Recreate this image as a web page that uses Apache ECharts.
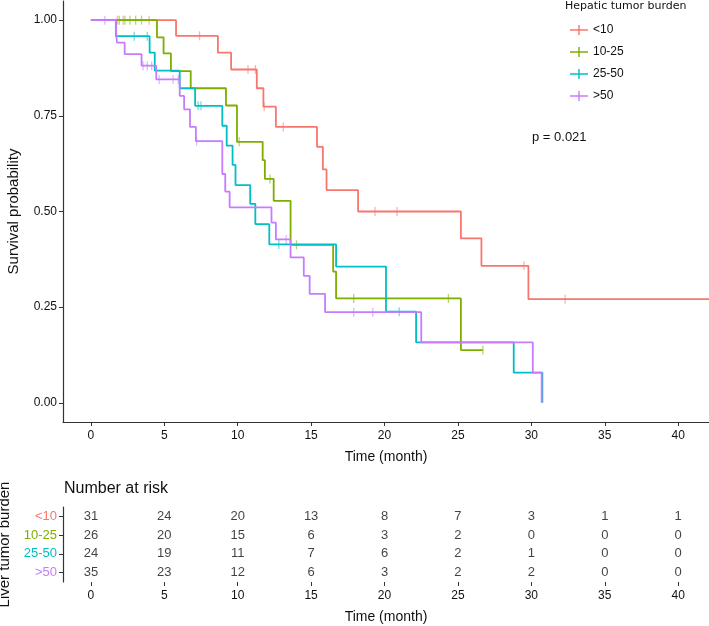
<!DOCTYPE html>
<html>
<head>
    <meta charset="utf-8">
    <script src="https://cdn.jsdelivr.net/npm/echarts@6.0.0/dist/echarts.min.js"></script>
    <style>
        body { margin: 0; background: #fff; }
    </style>
</head>
<body>
    <div id="km" style="width: 709px;height:626px;"></div>
    <script type="text/javascript">
        // groups and colours
        var groups = ['<10', '10-25', '25-50', '>50'];
        var colors = ['#F8766D', '#7CAE00', '#00BFC4', '#C77CFF'];

        // step points (time in months, survival)
        var t_lt10 = [0, 5.8, 8.65, 9.55, 11.3, 11.75, 12.6, 15.4, 15.8, 16.05, 18.2, 25.2, 26.6, 29.8, 43];
        var s_lt10 = [1, 0.959, 0.915, 0.871, 0.822, 0.774, 0.721, 0.669, 0.610, 0.556, 0.500, 0.430, 0.358, 0.271, 0.271];
        var c_lt10 = [1.8, 2.2, 3.97, 7.4, 10.7, 11.2, 11.8, 13.1, 19.35, 20.85, 29.5, 32.3];

        var t_10_25 = [0, 4.5, 4.95, 5.45, 6.8, 9.2, 9.95, 11.7, 11.85, 12.45, 13.6, 16.5, 16.7, 25.2, 26.7];
        var s_10_25 = [1, 0.955, 0.913, 0.867, 0.822, 0.777, 0.682, 0.634, 0.585, 0.528, 0.413, 0.343, 0.273, 0.138, 0.138];
        var c_10_25 = [1.93, 2.32, 2.66, 3.05, 3.45, 10.1, 12.2, 14.0, 17.9, 24.35, 26.7];

        var t_25_50 = [0, 1.7, 4.0, 4.35, 6.05, 7.1, 8.95, 9.25, 9.65, 9.85, 10.85, 11.2, 12.15, 16.7, 20.1, 22.15, 28.8, 30.75];
        var s_25_50 = [1, 0.958, 0.915, 0.868, 0.822, 0.776, 0.724, 0.672, 0.622, 0.569, 0.520, 0.467, 0.414, 0.356, 0.238, 0.158, 0.079, 0];
        var c_25_50 = [2.95, 3.84, 7.3, 7.5, 12.8, 21.0];

        var t_gt50 = [0, 1.72, 1.78, 2.3, 3.45, 4.45, 6.05, 6.35, 6.75, 7.15, 8.95, 9.15, 9.45, 12.3, 12.6, 13.6, 14.5, 14.9, 15.95, 22.5, 30.1, 30.7];
        var s_gt50 = [1, 0.965, 0.941, 0.911, 0.881, 0.845, 0.802, 0.767, 0.721, 0.684, 0.598, 0.552, 0.511, 0.471, 0.427, 0.380, 0.332, 0.285, 0.237, 0.158, 0.079, 0];
        var c_gt50 = [0.95, 3.55, 3.84, 4.14, 4.65, 5.6, 5.95, 7.2, 13.3, 17.9, 19.2];

        // number at risk table
        var riskTimes = [0, 5, 10, 15, 20, 25, 30, 35, 40];
        var risk_lt10 = [31, 24, 20, 13, 8, 7, 3, 1, 1];
        var risk_10_25 = [26, 20, 15, 6, 3, 2, 0, 0, 0];
        var risk_25_50 = [24, 19, 11, 7, 6, 2, 1, 0, 0];
        var risk_gt50 = [35, 23, 12, 6, 3, 2, 2, 0, 0];

        var yTicks = [0, 0.25, 0.5, 0.75, 1];
        var pText = 'p = 0.021';

        var curveT = [t_lt10, t_10_25, t_25_50, t_gt50];
        var curveS = [s_lt10, s_10_25, s_25_50, s_gt50];
        var censT = [c_lt10, c_10_25, c_25_50, c_gt50];
        var risks = [risk_lt10, risk_10_25, risk_25_50, risk_gt50];

        function survAt(ts, ss, t) {
            var v = ss[0];
            for (var i = 0; i < ts.length; i++) {
                if (ts[i] <= t) v = ss[i];
            }
            return v;
        }

        var font = 'Liberation Sans, Arial, sans-serif';
        var series = [];
        for (var g = 0; g < groups.length; g++) {
            var pts = [];
            for (var i = 0; i < curveT[g].length; i++) pts.push([curveT[g][i], curveS[g][i]]);
            series.push({
                name: groups[g], type: 'line', step: 'end', data: pts,
                xAxisIndex: 0, yAxisIndex: 0,
                showSymbol: false, symbol: 'none',
                lineStyle: { color: colors[g], width: 1.8 },
                itemStyle: { color: colors[g] },
                z: 3
            });
        }
        for (var g = 0; g < groups.length; g++) {
            var cp = [];
            for (var i = 0; i < censT[g].length; i++) {
                cp.push([censT[g][i], survAt(curveT[g], curveS[g], censT[g][i])]);
            }
            series.push({
                name: groups[g], type: 'scatter', data: cp,
                xAxisIndex: 0, yAxisIndex: 0,
                symbol: 'rect', symbolSize: [1.3, 9],
                itemStyle: { color: colors[g], opacity: 0.55 },
                z: 2
            });
        }
        var riskData = [];
        for (var g = 0; g < groups.length; g++) {
            for (var i = 0; i < riskTimes.length; i++) {
                riskData.push([riskTimes[i], groups[g], risks[g][i]]);
            }
        }
        series.push({
            type: 'scatter', data: riskData,
            xAxisIndex: 1, yAxisIndex: 1,
            symbolSize: 0,
            label: {
                show: true, position: 'inside', color: '#111',
                fontFamily: font, fontSize: 13,
                formatter: function (p) { return p.value[2]; }
            }
        });

        var richCat = {};
        for (var g = 0; g < groups.length; g++) {
            richCat['c' + g] = { color: colors[g], fontFamily: font, fontSize: 13 };
        }

        var axisCol = '#333';
        var chart = echarts.init(document.getElementById('km'));
        chart.setOption({
            animation: false,
            backgroundColor: '#fff',
            grid: [
                { left: 63, top: 1, width: 646, height: 421, outerBoundsMode: 'none', containLabel: false },
                { left: 63, top: 507, width: 646, height: 75, outerBoundsMode: 'none', containLabel: false }
            ],
            legend: {
                data: groups.map(function (n) {
                    return { name: n, icon: 'path://M0,4.3h18v1.4h-18z M8.3,0h1.4v10h-1.4z' };
                }),
                orient: 'vertical', left: 565, top: 19,
                itemWidth: 18, itemHeight: 10, itemGap: 10,
                textStyle: { fontFamily: font, fontSize: 12, color: '#111' },
                selectedMode: false
            },
            graphic: [
                { type: 'text', left: 565, top: 1, style: { text: 'Hepatic tumor burden', fontFamily: 'DejaVu Sans', fontSize: 11, fill: '#111' } },
                { type: 'text', left: 532, top: 131, style: { text: pText, fontFamily: font, fontSize: 13, fill: '#111' } },
                { type: 'text', left: 64, top: 481, style: { text: 'Number at risk', fontFamily: font, fontSize: 16, fill: '#111' } }
            ],
            xAxis: [
                {
                    type: 'value', gridIndex: 0, min: -1.9, max: 42.1,
                    name: 'Time (month)', nameLocation: 'middle', nameGap: 28,
                    nameTextStyle: { fontFamily: font, fontSize: 14, color: '#111' },
                    axisLine: { onZero: false, lineStyle: { color: axisCol, width: 1.2 } },
                    axisTick: { show: true, customValues: riskTimes, length: 4, lineStyle: { color: axisCol } },
                    axisLabel: { customValues: riskTimes, fontFamily: font, fontSize: 12, color: '#111', margin: 8 },
                    splitLine: { show: false }
                },
                {
                    type: 'value', gridIndex: 1, min: -1.9, max: 42.1,
                    name: 'Time (month)', nameLocation: 'middle', nameGap: 28,
                    nameTextStyle: { fontFamily: font, fontSize: 14, color: '#111' },
                    axisLine: { onZero: false, lineStyle: { color: axisCol, width: 1.2 } },
                    axisTick: { show: true, customValues: riskTimes, length: 4, lineStyle: { color: axisCol } },
                    axisLabel: { customValues: riskTimes, fontFamily: font, fontSize: 12, color: '#111', margin: 8 },
                    splitLine: { show: false }
                }
            ],
            yAxis: [
                {
                    type: 'value', gridIndex: 0, min: -0.05, max: 1.05,
                    name: 'Survival probability', nameLocation: 'middle', nameGap: 42,
                    nameTextStyle: { fontFamily: font, fontSize: 15, color: '#111' },
                    axisLine: { show: true, onZero: false, lineStyle: { color: axisCol, width: 1.2 } },
                    axisTick: { show: true, customValues: yTicks, length: 4, lineStyle: { color: axisCol } },
                    axisLabel: {
                        customValues: yTicks, fontFamily: font, fontSize: 12, color: '#111', margin: 6,
                        formatter: function (v) { return v.toFixed(2); }
                    },
                    splitLine: { show: false }
                },
                {
                    type: 'category', gridIndex: 1, data: groups, inverse: true,
                    name: 'Liver tumor burden', nameLocation: 'middle', nameGap: 42,
                    nameTextStyle: { fontFamily: font, fontSize: 15, color: '#111' },
                    axisLine: { show: true, onZero: false, lineStyle: { color: axisCol, width: 1.2 } },
                    axisTick: { show: true, alignWithLabel: true, length: 4, lineStyle: { color: axisCol } },
                    axisLabel: {
                        margin: 6, rich: richCat,
                        formatter: function (v) { return '{c' + groups.indexOf(v) + '|' + v + '}'; }
                    },
                    splitLine: { show: false }
                }
            ],
            series: series
        });
    </script>
</body>
</html>
